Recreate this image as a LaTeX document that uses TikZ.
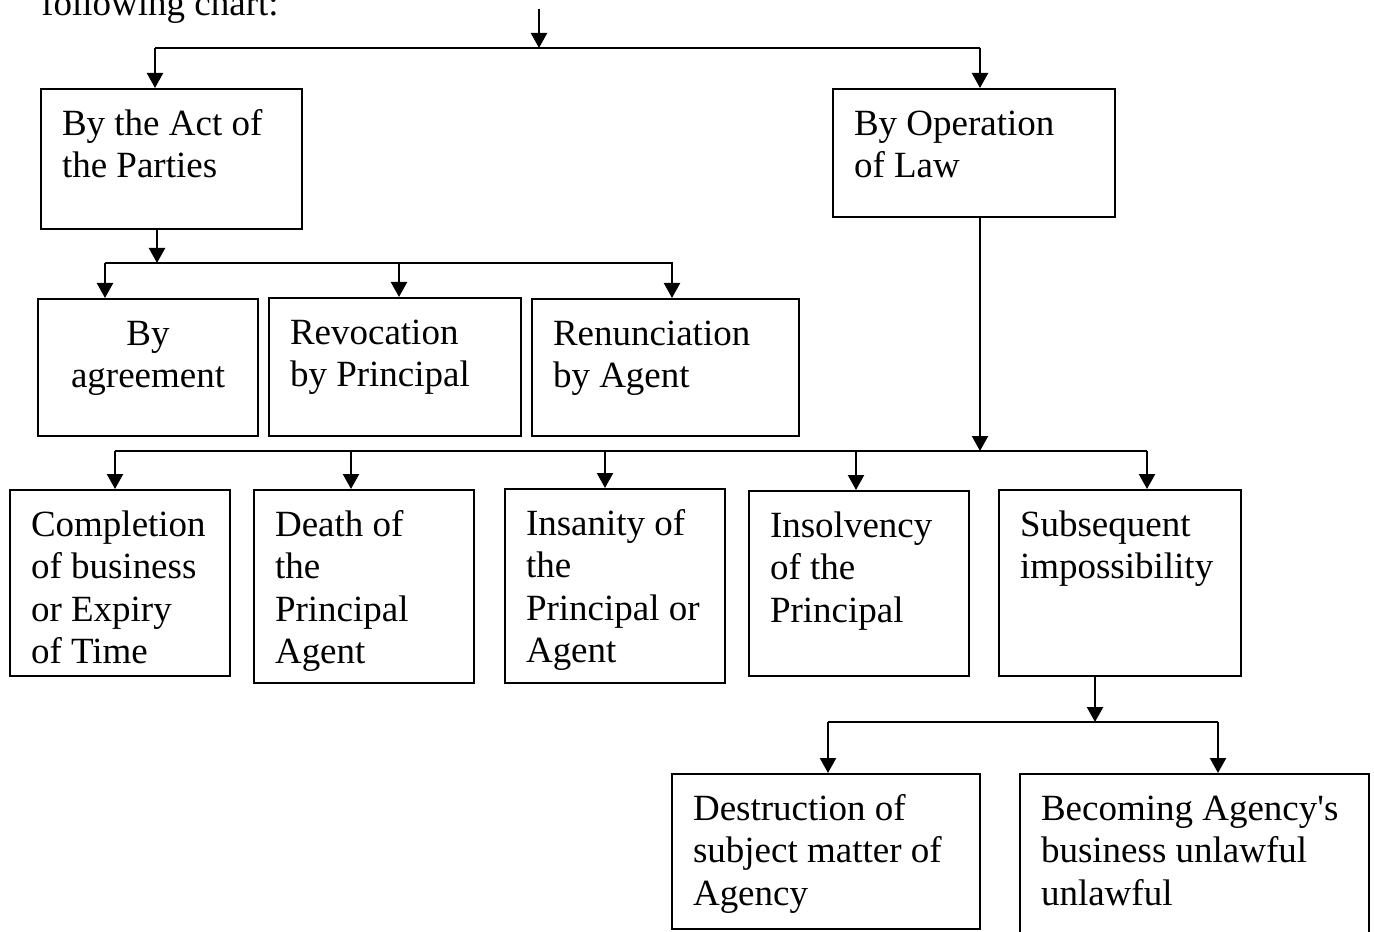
\documentclass[tikz,border=0pt]{standalone}
\usepackage{fontspec}
\usetikzlibrary{arrows.meta}
\newfontfamily\chartfont{Liberation Serif}
\newcommand{\chartsize}{\fontsize{21.05pt}{24.2pt}\selectfont}

\tikzstyle{stepbox} = [rectangle, draw=black, line width=1.2pt, anchor=north west, align=left, inner xsep=0.42cm, inner ysep=0pt, text height=0.92cm, font=\chartfont\chartsize, execute at begin node={\spaceskip=0pt\xspaceskip=0pt}]
\tikzstyle{bar} = [line width=1.2pt]
\tikzstyle{arrow} = [line width=1.3pt,-{Triangle[length=0.30cm,width=0.32cm]}]

\begin{document}
\begin{tikzpicture}[x=0.02cm, y=-0.02cm]
	
	\useasboundingbox (0,0) rectangle (1374,932);
	\node (title) [anchor=base west, inner sep=0pt, font=\chartfont\chartsize] at (41,16) {following chart:};
	
	\node (act) [stepbox, text width=4.38cm, text depth=1.88cm] at (40,88) {By the Act of\\the Parties};
	\node (law) [stepbox, text width=4.80cm, text depth=1.64cm] at (832,88) {By Operation\\of Law};
	
	\node (agree) [stepbox, align=center, text width=3.56cm, text depth=1.82cm] at (37,298) {By\\agreement};
	\node (revoc) [stepbox, text width=4.20cm, text depth=1.84cm] at (268,297) {Revocation\\by Principal};
	\node (renun) [stepbox, text width=4.50cm, text depth=1.82cm] at (531,298) {Renunciation\\by Agent};
	
	\node (compl) [stepbox, text width=3.56cm, text depth=2.80cm] at (9,489) {Completion\\of~business\\or~Expiry\\of~Time};
	\node (death) [stepbox, text width=3.56cm, text depth=2.94cm] at (253,489) {Death~of\\the\\Principal\\Agent};
	\node (insan) [stepbox, text width=3.56cm, text depth=2.96cm] at (504,488) {Insanity~of\\the\\Principal~or\\Agent};
	\node (insolv) [stepbox, text width=3.56cm, text depth=2.78cm] at (748,490) {Insolvency\\of~the\\Principal};
	\node (subseq) [stepbox, text width=4.00cm, text depth=2.80cm] at (998,489) {Subsequent\\impossibility};
	
	\node (destr) [stepbox, text width=5.32cm, text depth=2.18cm] at (671,773) {Destruction~of\\subject~matter~of\\Agency};
	\node (becom) [stepbox, text width=6.14cm, text depth=2.58cm] at (1019,773) {Becoming~Agency's\\business~unlawful\\unlawful};
	
	%arrow
	\coordinate (root) at (539,9);
	\coordinate (rootbar) at (539,48);
	\coordinate (rootleft) at (155,48);
	\coordinate (rootright) at (980,48);
	\draw [arrow] (root) -- (rootbar);
	\draw [bar] (rootleft) -- (rootright);
	\draw [arrow] (rootleft) -- (rootleft |- act.north);
	\draw [arrow] (rootright) -- (rootright |- law.north);
	
	\coordinate (actbar) at (157,263);
	\coordinate (actleft) at (105,263);
	\coordinate (actmid) at (399,263);
	\coordinate (actright) at (673,263);
	\draw [arrow] (act.south -| actbar) -- (actbar);
	\draw [bar] (actleft) -- (actright);
	\draw [arrow] (actleft) -- (actleft |- agree.north);
	\draw [arrow] (actmid) -- (actmid |- revoc.north);
	\draw [arrow] (672,263) -- (672,263 |- renun.north);
	
	\coordinate (lawbar) at (980,451);
	\coordinate (lawleft) at (115,451);
	\coordinate (lawright) at (1147,451);
	\coordinate (lawdeath) at (351,451);
	\coordinate (lawinsan) at (605,451);
	\coordinate (lawinsolv) at (856,451);
	\draw [arrow] (law.south -| lawbar) -- (lawbar);
	\draw [bar] (lawleft) -- (lawright);
	\draw [arrow] (lawleft) -- (lawleft |- compl.north);
	\draw [arrow] (lawdeath) -- (lawdeath |- death.north);
	\draw [arrow] (lawinsan) -- (lawinsan |- insan.north);
	\draw [arrow] (lawinsolv) -- (lawinsolv |- insolv.north);
	\draw [arrow] (lawright) -- (lawright |- subseq.north);
	
	\coordinate (subbar) at (1095,722);
	\coordinate (subleft) at (828,722);
	\coordinate (subright) at (1218,722);
	\draw [arrow] (subseq.south -| subbar) -- (subbar);
	\draw [bar] (subleft) -- (subright);
	\draw [arrow] (subleft) -- (subleft |- destr.north);
	\draw [arrow] (subright) -- (subright |- becom.north);
	
\end{tikzpicture}
\end{document}
